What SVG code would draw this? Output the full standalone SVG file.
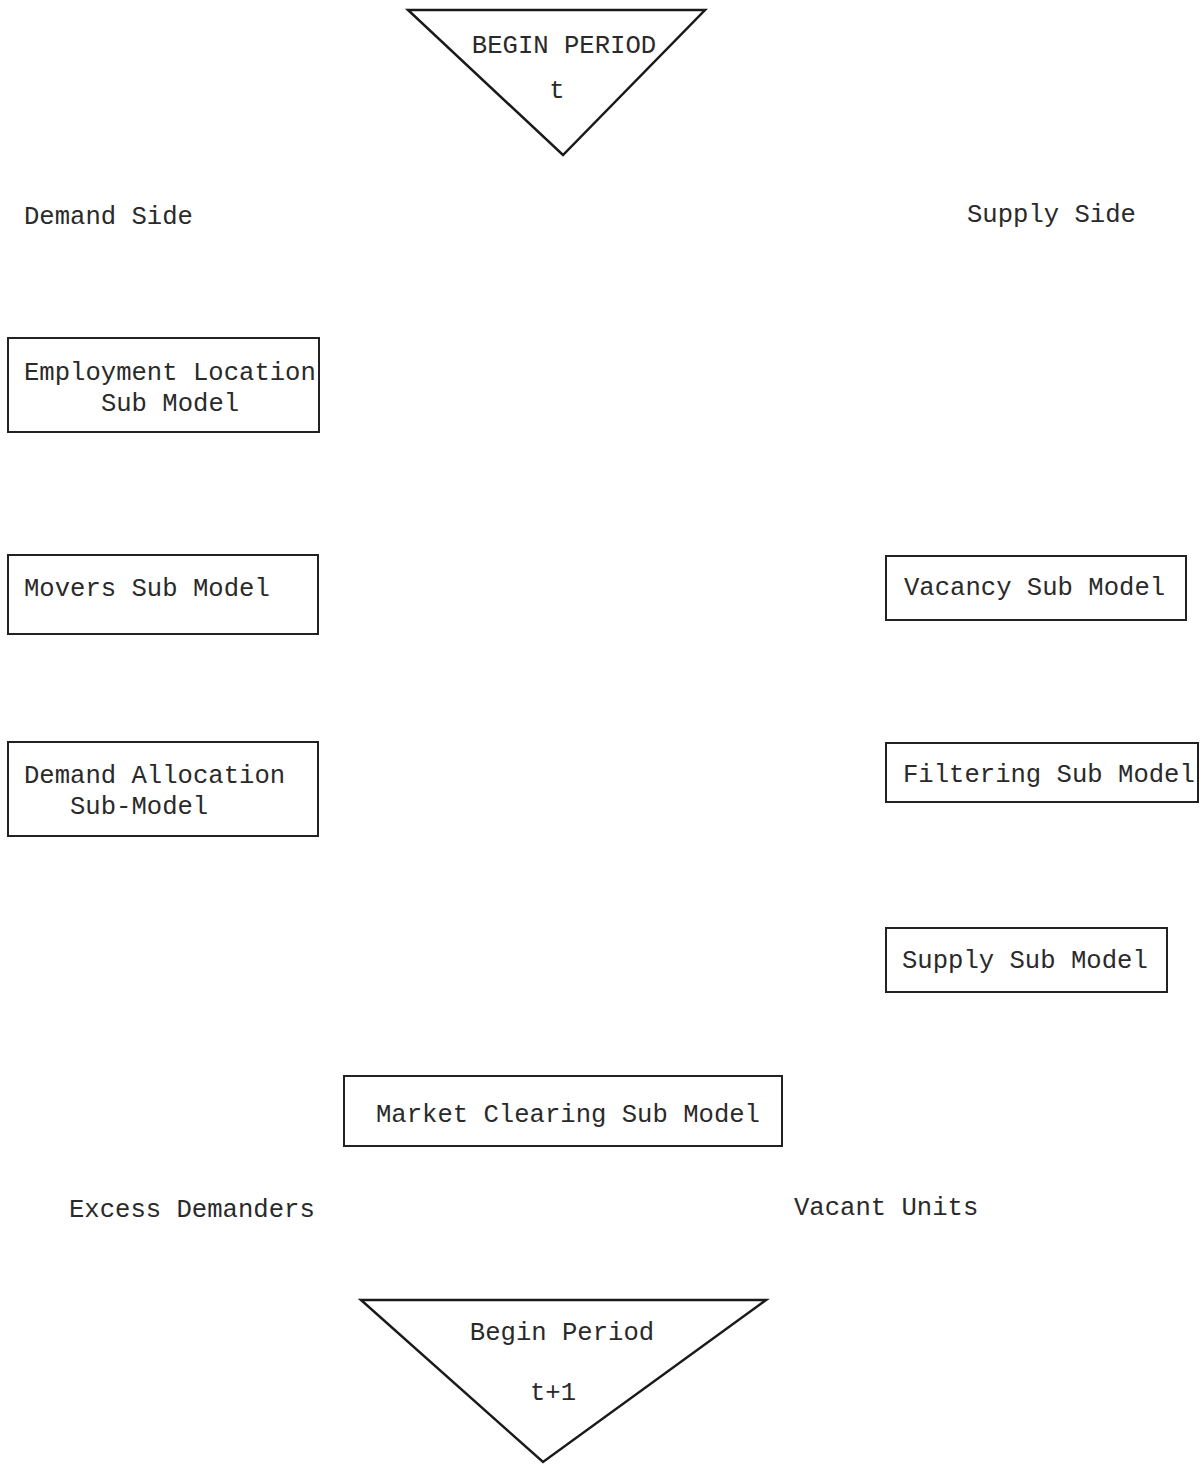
<svg xmlns="http://www.w3.org/2000/svg" width="1202" height="1464" viewBox="0 0 1202 1464">
<style>
text{font-family:"Liberation Mono","Courier New",monospace;font-size:25.6px;fill:#2a2a2a}
.box{fill:none;stroke:#222;stroke-width:2}
.tri{fill:none;stroke:#1a1a1a;stroke-width:2.5;stroke-linejoin:miter}
.mid{text-anchor:middle}
</style>
<rect width="1202" height="1464" fill="#fff"/>
<g id="begin-t">
<polygon class="tri" points="408,10 705,10 563,155"/>
<text x="564" y="53" class="mid">BEGIN PERIOD</text>
<text x="557" y="98" class="mid">t</text>
</g>
<g id="labels">
<text x="24" y="224">Demand Side</text>
<text x="967" y="222">Supply Side</text>
<text x="69" y="1217">Excess Demanders</text>
<text x="794" y="1215">Vacant Units</text>
</g>
<g id="employment">
<rect class="box" x="8" y="338" width="311" height="94"/>
<text x="24" y="380">Employment Location</text>
<text x="170" y="411" class="mid">Sub Model</text>
</g>
<g id="movers">
<rect class="box" x="8" y="555" width="310" height="79"/>
<text x="24" y="596">Movers Sub Model</text>
</g>
<g id="demand-allocation">
<rect class="box" x="8" y="742" width="310" height="94"/>
<text x="24" y="783">Demand Allocation</text>
<text x="70" y="814">Sub-Model</text>
</g>
<g id="vacancy">
<rect class="box" x="886" y="556" width="300" height="64"/>
<text x="904" y="595">Vacancy Sub Model</text>
</g>
<g id="filtering">
<rect class="box" x="886" y="743" width="312" height="59"/>
<text x="903" y="782">Filtering Sub Model</text>
</g>
<g id="supply">
<rect class="box" x="886" y="928" width="281" height="64"/>
<text x="902" y="968">Supply Sub Model</text>
</g>
<g id="market-clearing">
<rect class="box" x="344" y="1076" width="438" height="70"/>
<text x="376" y="1122">Market Clearing Sub Model</text>
</g>
<g id="begin-t1">
<polygon class="tri" points="361,1300 766,1300 543,1462"/>
<text x="562" y="1340" class="mid">Begin Period</text>
<text x="553" y="1400" class="mid">t+1</text>
</g>
<g id="connectors"></g>
</svg>
